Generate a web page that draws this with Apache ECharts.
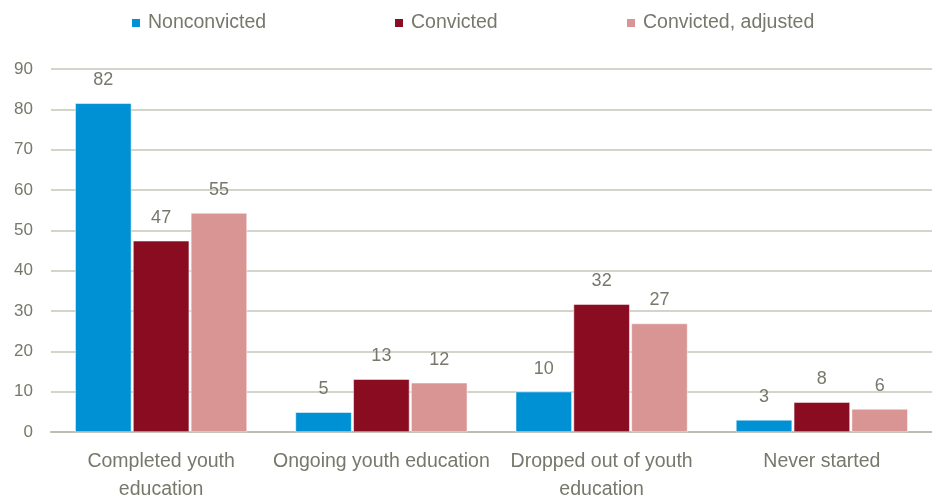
<!DOCTYPE html>
<html><head><meta charset="utf-8">
<script src="https://cdn.jsdelivr.net/npm/echarts@6/dist/echarts.min.js"></script>
<style>html,body{margin:0;padding:0;background:#fff}#c{width:932px;height:504px}</style>
</head><body><div id="c"></div>
<script>
var categories = ["Completed youth\neducation", "Ongoing youth education", "Dropped out of youth\neducation", "Never started"];
var seriesNames = ["Nonconvicted", "Convicted", "Convicted, adjusted"];
var nonconvicted = [81.5, 4.9, 10.0, 3.0];
var convicted = [47.4, 13.1, 31.7, 7.4];
var convictedAdjusted = [54.3, 12.2, 26.9, 5.7];
var nonconvictedLabels = ["82", "5", "10", "3"];
var convictedLabels = ["47", "13", "32", "8"];
var convictedAdjustedLabels = ["55", "12", "27", "6"];
var yTicks = [0, 10, 20, 30, 40, 50, 60, 70, 80, 90];

var FONT = "'Liberation Sans Narrow', 'Arial Narrow', 'Liberation Sans', Arial, sans-serif";
var TXT = '#77776b';
var colors = ['#0091d5', '#8a0c21', '#d99594'];
var chart = echarts.init(document.getElementById('c'));
function mk(name, data, labels, color) {
  return {
    name: name, type: 'bar', data: data,
    barGap: '3%', barCategoryGap: '22%',
    itemStyle: { color: color, borderColor: '#ffffff', borderWidth: 0.5 },
    label: { show: true, position: 'top', distance: 14, color: TXT, fontSize: 18, fontFamily: FONT,
      formatter: function (p) { return labels[p.dataIndex]; } }
  };
}
function lg(name, left) {
  return { data: [name], left: left, top: 13, padding: 0, icon: 'rect', itemWidth: 10, itemHeight: 10,
    textStyle: { color: TXT, fontSize: 19.5, fontFamily: FONT, padding: [0, 0, 0, 2] } };
}
chart.setOption({
  animation: false,
  color: colors,
  legend: [lg(seriesNames[0], 130), lg(seriesNames[1], 393), lg(seriesNames[2], 625)],
  grid: { left: 51, width: 892, top: 69, height: 368, containLabel: false },
  xAxis: {
    type: 'category', data: categories,
    axisLine: { show: true, lineStyle: { color: '#bdbdb1', width: 2 } },
    axisTick: { show: false },
    axisLabel: { color: TXT, fontSize: 19.5, fontFamily: FONT, margin: 16, lineHeight: 28, interval: 0 }
  },
  yAxis: {
    type: 'value', min: yTicks[0], max: yTicks[yTicks.length - 1], interval: 10,
    axisLine: { show: false }, axisTick: { show: false },
    axisLabel: { color: TXT, fontSize: 17, fontFamily: FONT, margin: 18 },
    splitLine: { lineStyle: { color: '#c6c6ba', width: 1.5 } }
  },
  series: [
    mk(seriesNames[0], nonconvicted, nonconvictedLabels, colors[0]),
    mk(seriesNames[1], convicted, convictedLabels, colors[1]),
    mk(seriesNames[2], convictedAdjusted, convictedAdjustedLabels, colors[2])
  ]
});
</script></body></html>
